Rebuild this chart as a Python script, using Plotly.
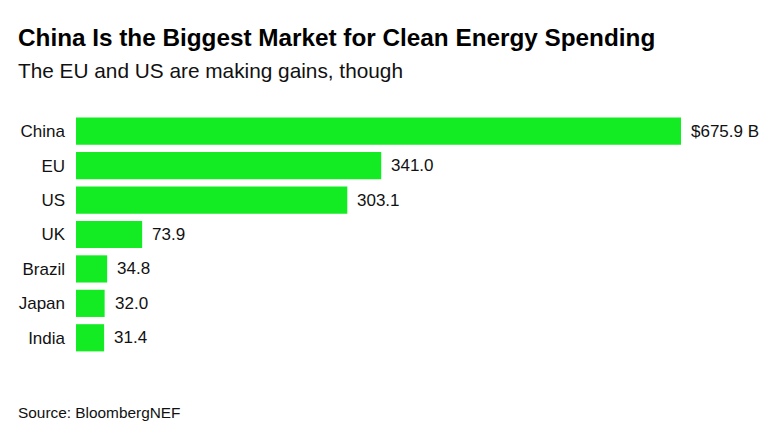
import plotly.graph_objects as go

categories = ["China", "EU", "US", "UK", "Brazil", "Japan", "India"]
values = [675.9, 341.0, 303.1, 73.9, 34.8, 32.0, 31.4]
labels = ["$675.9 B", "341.0", "303.1", "73.9", "34.8", "32.0", "31.4"]

BAR = "#13EC22"
FONT = "Liberation Sans, Arial, sans-serif"

fig = go.Figure(go.Bar(
    x=values, y=categories, orientation="h",
    marker=dict(color=BAR, line=dict(width=0)),
    hoverinfo="skip",
))

for c, v, t in zip(categories, values, labels):
    fig.add_annotation(x=v, y=c, text=t, showarrow=False, xanchor="left",
                       xshift=8, font=dict(size=17, color="#111", family=FONT))

LX = (16 - 76) / 686

fig.update_layout(
    width=782, height=436,
    margin=dict(l=76, r=20, t=114, b=81),
    paper_bgcolor="white", plot_bgcolor="white",
    bargap=0.21,
    showlegend=False,
    font=dict(family=FONT, color="#111"),
    xaxis=dict(range=[0, 766.4], visible=False, fixedrange=True),
    yaxis=dict(autorange="reversed", showgrid=False, zeroline=False, showline=False,
               ticks="", ticklabelstandoff=10, tickfont=dict(size=17, color="#111", family=FONT)),
    annotations=list(fig.layout.annotations) + [
        dict(text="<b>China Is the Biggest Market for Clean Energy Spending</b>", xref="paper", yref="paper",
             x=LX, y=1, yshift=114-37, xanchor="left", yanchor="middle", showarrow=False,
             font=dict(size=24.3, color="#000", family=FONT)),
        dict(text="The EU and US are making gains, though", xref="paper", yref="paper",
             x=LX, y=1, yshift=114-70, xanchor="left", yanchor="middle", showarrow=False,
             font=dict(size=20.8, color="#111", family=FONT)),
        dict(text="Source: BloombergNEF", xref="paper", yref="paper",
             x=LX, y=0, yshift=-(412-355), xanchor="left", yanchor="middle", showarrow=False,
             font=dict(size=15.4, color="#111", family=FONT)),
    ],
)

fig.write_html("out.html")
